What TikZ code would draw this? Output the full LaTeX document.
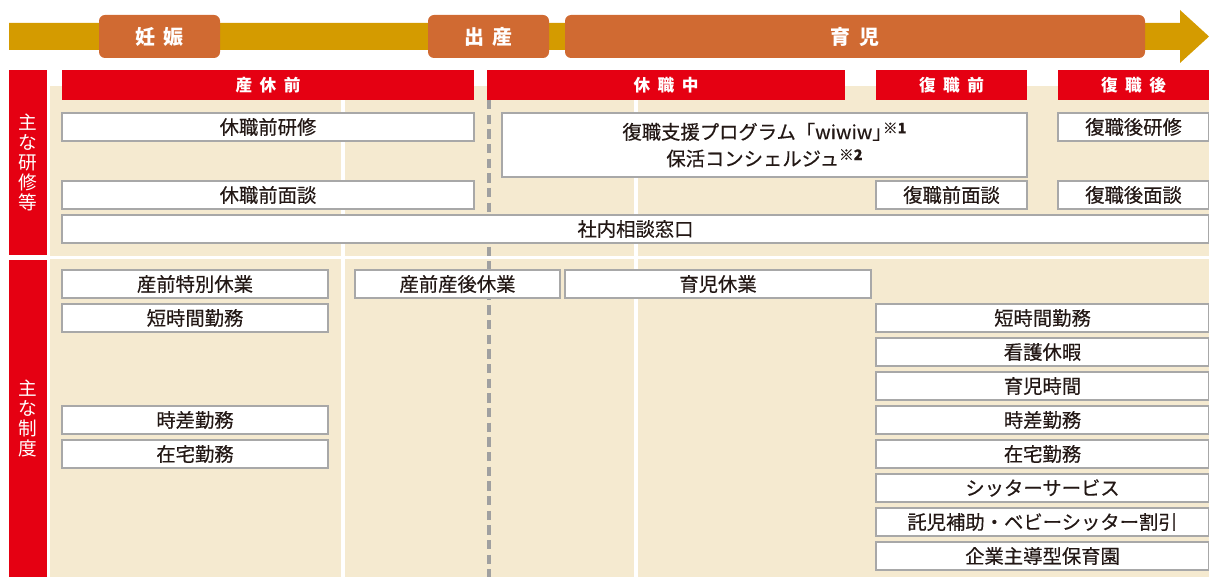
\documentclass[tikz,border=0pt]{standalone}
\usepackage{fontspec}
\setmainfont{Noto Sans CJK JP}
\newfontfamily\medium[FakeBold=0.35]{Noto Sans CJK JP}
\usepackage{xcolor}
\usepackage{tikz}
\usetikzlibrary{fit}

\definecolor{bandyellow}{HTML}{D49B00}
\definecolor{stageorange}{HTML}{D06A32}
\definecolor{headred}{HTML}{E50012}
\definecolor{beige}{HTML}{F5EAD0}
\definecolor{boxgray}{HTML}{A8A8A8}
\definecolor{dashgray}{HTML}{A0A0A0}
\definecolor{ink}{HTML}{231815}

\newcommand{\gap}{\hspace{0.45em}}
\newcommand{\note}[1]{\raisebox{0.55ex}{\fontsize{11}{11}\selectfont\bfseries #1}}

\begin{document}
\begin{tikzpicture}[x=0.75pt, y=-0.75pt,
    stage/.style={fill=stageorange, rounded corners=4.5pt, inner sep=0pt,
      label={[text=white, font=\fontsize{15}{16}\selectfont\bfseries]center:#1}},
    head/.style={fill=headred, inner sep=0pt,
      label={[text=white, font=\fontsize{12.5}{13}\selectfont\bfseries]center:#1}},
    item/.style={draw=boxgray, line width=1.1pt, fill=white, inner sep=0pt,
      label={[text=ink, align=center, font=\fontsize{14.5}{20}\selectfont\medium]center:#1}},
    side/.style={fill=headred, inner sep=0pt,
      label={[text=white, align=center, font=\fontsize{14}{15}\selectfont]center:#1}}]
    \useasboundingbox (0,0) rectangle (1209,577);

    % timeline
    \fill[bandyellow] (9,23) -- (1180,23) -- (1180,10) -- (1209,36.5) -- (1180,63) -- (1180,50) -- (9,50) -- cycle;
    \node[stage={妊\gap 娠}, fit={(99,15) (220,58)}] (ninshin) {};
    \node[stage={出\gap 産}, fit={(428,15) (549,58)}] (shussan) {};
    \node[stage={育\gap 児}, fit={(565,15) (1145,58)}] (ikuji) {};

    % background
    \fill[beige] (50,86) rectangle (1209,577);
    \draw[white, line width=2.3pt] (343,86) -- (343,577);
    \draw[white, line width=2.3pt] (636,86) -- (636,577);
    \draw[white, line width=2.3pt] (50,257.5) -- (1209,257.5);
    \draw[dashgray, line width=2.6pt, dash pattern=on 7pt off 4pt] (489,100) -- (489,577);

    % side labels
    \node[side={主\\な\\研\\修\\等}, fit={(9,70) (47,255)}] (kenshu) {};
    \node[side={主\\な\\制\\度}, fit={(9,260) (47,577)}] (seido) {};

    % period headers
    \node[head={産\gap 休\gap 前}, fit={(62,70) (474,100)}] (sankyumae) {};
    \node[head={休\gap 職\gap 中}, fit={(487,70) (845,100)}] (kyushoku) {};
    \node[head={復\gap 職\gap 前}, fit={(876,70) (1027,100)}] (fukumae) {};
    \node[head={復\gap 職\gap 後}, fit={(1058,70) (1209,100)}] (fukugo) {};

    % training
    \node[item={休職前研修}, fit={(62,113) (474,141)}] (kyukenshu) {};
    \node[item={休職前面談}, fit={(62,181) (474,209)}] (kyumendan) {};
    \node[item={復職支援プログラム「wiwiw」\kern-0.45em\note{※1}\\保活コンシェルジュ\note{※2}},
      fit={(502,113) (1027,177)}] (wiwiw) {};
    \node[item={復職後研修}, fit={(1058,113) (1209,141)}] (gokenshu) {};
    \node[item={復職前面談}, fit={(876,181) (1027,209)}] (maemendan) {};
    \node[item={復職後面談}, fit={(1058,181) (1209,209)}] (gomendan) {};
    \node[item={社内相談窓口}, fit={(62,215) (1209,243)}] (madoguchi) {};

    % systems, left
    \node[item={産前特別休業}, fit={(62,270) (328,298)}] (tokubetsu) {};
    \node[item={短時間勤務}, fit={(62,304) (328,332)}] (tanjikan1) {};
    \node[item={時差勤務}, fit={(62,406) (328,434)}] (jisa1) {};
    \node[item={在宅勤務}, fit={(62,440) (328,468)}] (zaitaku1) {};
    \node[item={産前産後休業}, fit={(355,270) (560,298)}] (sanzengo) {};
    \node[item={育児休業}, fit={(565,270) (871,298)}] (ikukyu) {};

    % systems, right
    \node[item={短時間勤務}, fit={(876,304) (1209,332)}] (tanjikan2) {};
    \node[item={看護休暇}, fit={(876,338) (1209,366)}] (kango) {};
    \node[item={育児時間}, fit={(876,372) (1209,400)}] (ikujijikan) {};
    \node[item={時差勤務}, fit={(876,406) (1209,434)}] (jisa2) {};
    \node[item={在宅勤務}, fit={(876,440) (1209,468)}] (zaitaku2) {};
    \node[item={シッターサービス}, fit={(876,474) (1209,502)}] (sitter) {};
    \node[item={託児補助・ベビーシッター割引}, fit={(876,508) (1209,536)}] (takuji) {};
    \node[item={企業主導型保育園}, fit={(876,542) (1209,570)}] (hoikuen) {};
\end{tikzpicture}
\end{document}
